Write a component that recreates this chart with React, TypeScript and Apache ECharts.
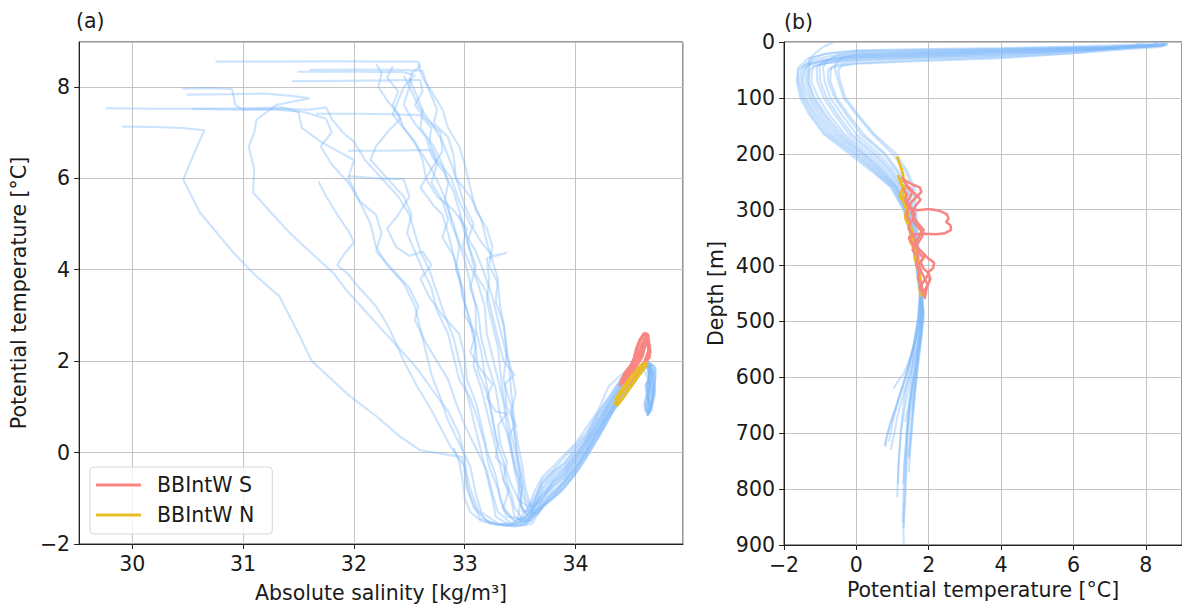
import { useEffect, useRef } from 'react';
import * as echarts from 'echarts';

// ---------- Panel (a): Absolute salinity vs potential temperature ----------
const salinityTicks = [30, 31, 32, 33, 34];
const tempTicksA = [-2, 0, 2, 4, 6, 8];

const ts01 = [[30.75,8.55],[31.2,8.55],[31.8,8.56],[32.3,8.55],[32.58,8.55],[32.6,8.45],[32.52,8.3],[32.5,8.0],[32.58,7.6],[32.7,7.2],[32.8,6.8],[32.88,6.3],[32.95,5.8],[33.0,5.4],[33.08,5.0],[33.02,4.6],[33.1,4.1],[33.05,3.6],[33.12,3.1],[33.15,2.5],[33.2,2.0],[33.28,1.4],[33.32,0.8],[33.38,0.45],[33.4,0.2],[33.45,-0.3],[33.52,-0.8],[33.5,-1.15],[33.58,-1.4],[33.64,-1.15],[33.7,-0.82],[33.8,-0.55],[33.9,-0.36],[34.0,-0.03],[34.1,0.27],[34.2,0.7],[34.3,1.06],[34.42,1.52],[34.55,1.76],[34.62,1.92],[34.66,1.95],[34.7,1.8],[34.69,1.6],[34.71,1.4],[34.7,1.2],[34.68,1.0],[34.66,0.85]];
const ts02 = [[31.6,8.37],[32.0,8.38],[32.4,8.37],[32.62,8.35],[32.65,8.1],[32.7,7.8],[32.75,7.5],[32.72,7.2],[32.85,6.9],[32.9,6.5],[32.92,6.0],[33.05,5.6],[33.15,5.1],[33.2,4.6],[33.25,4.2],[33.3,3.8],[33.28,3.3],[33.35,2.8],[33.38,2.2],[33.35,1.6],[33.42,1.0],[33.45,0.4],[33.48,-0.2],[33.52,-0.7],[33.5,-1.05],[33.58,-1.2],[33.62,-0.9],[33.7,-0.53],[33.8,-0.3],[33.9,-0.04],[34.0,0.2],[34.1,0.55],[34.2,0.9],[34.3,1.45],[34.42,1.72],[34.55,1.9],[34.61,1.9],[34.65,2.0],[34.72,1.85],[34.72,1.6],[34.7,1.35],[34.69,1.15],[34.67,0.95],[34.65,0.8]];
const ts03 = [[31.49,8.33],[32.0,8.33],[32.45,8.32],[32.55,8.25],[32.45,8.0],[32.4,7.7],[32.35,7.4],[32.48,7.0],[32.6,6.6],[32.7,6.2],[32.78,5.8],[32.85,5.4],[32.88,5.0],[32.95,4.6],[33.0,4.2],[33.05,3.7],[33.1,3.2],[33.1,2.7],[33.15,2.2],[33.18,1.7],[33.22,1.2],[33.25,0.7],[33.3,0.2],[33.28,-0.1],[33.35,-0.3],[33.4,-0.8],[33.35,-1.2],[33.45,-1.5],[33.55,-1.42],[33.62,-1.15],[33.7,-0.92],[33.8,-0.66],[33.9,-0.46],[34.0,-0.13],[34.1,0.18],[34.2,0.61],[34.3,0.97],[34.42,1.44],[34.55,1.72],[34.6,1.88],[34.64,1.96],[34.67,1.85],[34.66,1.65],[34.67,1.45],[34.65,1.25],[34.66,1.05]];
const ts04 = [[31.44,8.12],[31.9,8.13],[32.3,8.14],[32.6,8.15],[32.62,7.9],[32.55,7.6],[32.65,7.3],[32.78,7.0],[32.8,6.6],[32.7,6.2],[32.6,5.8],[32.72,5.4],[32.8,5.2],[32.85,4.8],[32.9,4.3],[32.95,3.8],[33.0,3.3],[33.05,2.8],[33.1,2.3],[33.12,1.8],[33.2,1.3],[33.25,0.8],[33.28,0.3],[33.35,-0.2],[33.42,-0.7],[33.5,-1.1],[33.48,-1.45],[33.6,-1.5],[33.7,-1.02],[33.8,-0.76],[33.9,-0.56],[34.0,-0.23],[34.1,0.09],[34.2,0.52],[34.3,0.88],[34.42,1.36],[34.55,1.68],[34.63,1.95],[34.68,1.9],[34.68,1.7],[34.64,1.5],[34.65,1.3],[34.63,1.1],[34.64,0.9]];
const ts05 = [[30.45,7.96],[30.7,7.97],[30.9,7.95],[30.93,7.6],[31.0,7.5],[31.3,7.52],[31.6,7.5],[31.75,7.55],[31.8,7.3],[31.9,7.0],[32.0,6.8],[32.1,6.4],[32.25,6.0],[32.4,5.6],[32.5,5.2],[32.55,4.8],[32.6,4.4],[32.68,4.0],[32.75,3.5],[32.82,3.0],[32.9,2.5],[32.95,2.0],[33.0,1.5],[33.05,1.0],[33.1,0.5],[33.15,0.0],[33.2,-0.5],[33.25,-1.0],[33.28,-1.4],[33.4,-1.58],[33.55,-1.5],[33.62,-1.35],[33.7,-1.12],[33.8,-0.87],[33.9,-0.66],[34.0,-0.36],[34.1,0.04],[34.2,0.4],[34.3,0.84],[34.42,1.27],[34.55,1.66],[34.61,1.88],[34.64,1.93],[34.69,1.75],[34.68,1.55],[34.7,1.3],[34.68,1.1],[34.67,0.9]];
const ts06 = [[30.49,7.83],[30.9,7.84],[31.2,7.85],[31.45,7.8],[31.6,7.75],[31.3,7.6],[31.12,7.28],[31.1,7.0],[31.05,6.69],[31.1,6.2],[31.09,5.69],[31.25,5.25],[31.42,4.81],[31.6,4.4],[31.81,3.94],[31.95,3.5],[32.1,3.1],[32.25,2.7],[32.4,2.3],[32.55,1.9],[32.7,1.4],[32.85,0.9],[32.95,0.4],[33.0,-0.1],[33.02,-0.7],[33.08,-1.2],[33.2,-1.5],[33.35,-1.6],[33.55,-1.58],[33.62,-1.42],[33.7,-1.22],[33.8,-1.0],[33.9,-0.77],[34.0,-0.46],[34.1,-0.1],[34.2,0.3],[34.3,0.74],[34.42,1.18],[34.55,1.58],[34.6,1.85],[34.65,1.9],[34.66,1.7],[34.65,1.45],[34.66,1.2],[34.64,1.0],[34.65,0.82]];
const ts07 = [[29.76,7.53],[30.2,7.52],[30.6,7.52],[31.0,7.53],[31.36,7.55],[31.5,7.45],[31.53,7.1],[31.7,6.8],[31.85,6.6],[32.0,6.4],[31.95,6.0],[32.05,5.5],[32.15,5.0],[32.2,4.5],[32.3,4.1],[32.45,3.7],[32.55,3.2],[32.6,2.7],[32.65,2.2],[32.7,1.7],[32.78,1.2],[32.85,0.7],[32.95,0.2],[33.05,-0.3],[33.1,-0.9],[33.15,-1.3],[33.3,-1.55],[33.5,-1.6],[33.6,-1.4],[33.7,-1.08],[33.8,-0.83],[33.9,-0.63],[34.0,-0.29],[34.1,0.07],[34.2,0.46],[34.3,0.83],[34.42,1.32],[34.55,1.67],[34.63,1.9],[34.7,1.92],[34.72,1.7],[34.71,1.5],[34.72,1.3],[34.7,1.1],[34.68,0.95]];
const ts08 = [[30.54,7.52],[30.9,7.5],[31.3,7.5],[31.55,7.45],[31.75,7.3],[31.8,7.0],[31.7,6.7],[31.8,6.3],[31.95,5.9],[32.05,5.5],[32.2,5.2],[32.25,4.8],[32.2,4.4],[32.35,4.0],[32.5,3.6],[32.58,3.2],[32.55,2.9],[32.65,2.4],[32.75,2.0],[32.85,1.6],[32.92,1.1],[33.0,0.6],[33.1,0.1],[33.2,-0.4],[33.25,-0.9],[33.3,-1.3],[33.42,-1.55],[33.58,-1.45],[33.65,-1.1],[33.7,-0.88],[33.8,-0.62],[33.9,-0.43],[34.0,-0.1],[34.1,0.25],[34.2,0.6],[34.3,1.04],[34.42,1.46],[34.55,1.76],[34.62,1.93],[34.66,1.88],[34.67,1.65],[34.63,1.45],[34.64,1.25],[34.62,1.05],[34.63,0.88]];
const ts09 = [[29.91,7.13],[30.2,7.12],[30.45,7.1],[30.65,7.05],[30.64,7.0],[30.55,6.5],[30.46,5.97],[30.61,5.25],[30.91,4.38],[31.1,3.9],[31.33,3.41],[31.5,2.6],[31.62,2.0],[31.8,1.6],[31.96,1.24],[32.2,0.8],[32.41,0.36],[32.6,0.05],[32.85,-0.05],[32.98,-0.1],[33.02,-0.8],[33.14,-1.45],[33.29,-1.56],[33.45,-1.62],[33.61,-1.55],[33.7,-1.16],[33.8,-0.97],[33.9,-0.7],[34.0,-0.4],[34.1,-0.02],[34.2,0.34],[34.3,0.78],[34.42,1.22],[34.55,1.62],[34.62,1.8],[34.67,1.55],[34.66,1.0],[34.65,0.8]];
const ts10 = [[31.66,7.41],[32.0,7.41],[32.35,7.4],[32.6,7.38],[32.7,7.1],[32.68,6.8],[32.75,6.4],[32.88,6.0],[32.95,5.5],[33.05,5.0],[33.15,4.6],[33.25,4.3],[33.38,4.37],[33.2,4.25],[33.22,3.8],[33.2,3.3],[33.25,2.8],[33.3,2.3],[33.32,1.8],[33.35,1.2],[33.4,0.6],[33.45,0.1],[33.5,-0.5],[33.48,-1.0],[33.55,-1.35],[33.63,-1.05],[33.7,-0.6],[33.8,-0.38],[33.9,-0.1],[34.0,0.16],[34.1,0.44],[34.2,0.88],[34.3,1.22],[34.42,1.65],[34.55,1.85],[34.6,1.88],[34.64,1.96],[34.67,1.85],[34.66,1.65],[34.67,1.45],[34.65,1.25],[34.66,1.05]];
const ts11 = [[31.95,6.6],[32.3,6.6],[32.7,6.62],[32.75,6.3],[32.7,5.9],[32.8,5.5],[32.85,5.1],[32.8,4.7],[32.9,4.3],[32.95,3.9],[32.98,3.4],[33.05,2.9],[33.1,2.4],[33.08,1.9],[33.15,1.4],[33.2,0.9],[33.25,0.4],[33.3,-0.1],[33.35,-0.6],[33.42,-1.05],[33.45,-1.4],[33.55,-1.55],[33.63,-1.25],[33.7,-0.98],[33.8,-0.72],[33.9,-0.53],[34.0,-0.2],[34.1,0.16],[34.2,0.5],[34.3,0.95],[34.42,1.36],[34.55,1.72],[34.61,1.9],[34.65,2.0],[34.72,1.85],[34.72,1.6],[34.7,1.35],[34.69,1.15],[34.67,0.95],[34.65,0.8]];
const ts12 = [[32.2,8.5],[32.25,8.3],[32.22,8.0],[32.3,7.7],[32.4,7.4],[32.45,7.1],[32.55,6.8],[32.62,6.4],[32.65,6.0],[32.75,5.6],[32.9,5.3],[33.02,4.9],[32.98,4.5],[33.05,4.1],[33.12,3.7],[33.18,3.2],[33.2,2.6],[33.25,2.1],[33.3,1.6],[33.35,1.1],[33.38,0.6],[33.42,0.1],[33.45,-0.4],[33.5,-0.9],[33.52,-1.3],[33.6,-1.25],[33.65,-0.95],[33.7,-0.7],[33.8,-0.44],[33.9,-0.26],[34.0,0.07],[34.1,0.35],[34.2,0.8],[34.3,1.14],[34.42,1.59],[34.55,1.81],[34.63,1.95],[34.68,1.9],[34.68,1.7],[34.64,1.5],[34.65,1.3],[34.63,1.1],[34.64,0.9]];
const ts13 = [[32.35,8.45],[32.3,8.2],[32.4,7.9],[32.35,7.6],[32.42,7.3],[32.3,7.0],[32.2,6.7],[32.15,6.4],[32.3,6.0],[32.45,5.6],[32.52,5.2],[32.48,4.8],[32.55,4.4],[32.62,4.0],[32.7,3.6],[32.75,3.1],[32.85,2.6],[32.9,2.1],[32.95,1.6],[33.05,1.2],[33.12,0.7],[33.18,0.2],[33.22,-0.3],[33.3,-0.8],[33.35,-1.25],[33.45,-1.5],[33.58,-1.35],[33.65,-1.0],[33.7,-0.77],[33.8,-0.5],[33.9,-0.32],[34.0,0.0],[34.1,0.3],[34.2,0.73],[34.3,1.1],[34.42,1.54],[34.55,1.77],[34.62,1.92],[34.66,1.95],[34.7,1.8],[34.69,1.6],[34.71,1.4],[34.7,1.2],[34.68,1.0],[34.66,0.85]];
const ts14 = [[31.95,6.05],[32.2,6.0],[32.45,5.98],[32.5,5.6],[32.4,5.2],[32.3,4.9],[32.38,4.5],[32.5,4.3],[32.62,4.4],[32.7,4.1],[32.6,3.8],[32.68,3.4],[32.8,3.0],[32.95,2.6],[33.0,2.1],[33.02,1.6],[33.1,1.1],[33.15,0.6],[33.2,0.05],[33.28,-0.5],[33.32,-1.0],[33.38,-1.4],[33.5,-1.45],[33.6,-1.1],[33.7,-0.66],[33.8,-0.41],[33.9,-0.22],[34.0,0.1],[34.1,0.38],[34.2,0.83],[34.3,1.18],[34.42,1.62],[34.55,1.83],[34.6,1.85],[34.65,1.9],[34.66,1.7],[34.65,1.45],[34.66,1.2],[34.64,1.0],[34.65,0.82]];
const ts15 = [[32.9,0.1],[32.95,-0.2],[32.98,-0.6],[33.0,-1.0],[33.05,-1.3],[33.15,-1.5],[33.3,-1.58],[33.5,-1.52],[33.6,-1.3],[33.7,-0.95],[33.8,-0.7],[33.9,-0.48],[34.0,-0.17],[34.1,0.19],[34.2,0.55],[34.3,0.98],[34.42,1.4],[34.55,1.73],[34.62,1.9],[34.66,1.8],[34.67,1.5],[34.66,1.2],[34.67,1.0],[34.65,0.83]];
const ts16 = [[32.95,5.2],[33.0,4.8],[33.1,4.4],[33.18,3.9],[33.25,3.4],[33.3,2.9],[33.35,2.4],[33.4,1.9],[33.42,1.3],[33.45,0.7],[33.48,0.2],[33.52,-0.3],[33.55,-0.8],[33.6,-1.2],[33.7,-1.05],[33.8,-0.6],[33.9,-0.38],[34.0,-0.07],[34.1,0.26],[34.2,0.66],[34.3,1.06],[34.42,1.48],[34.55,1.77],[34.62,1.9],[34.66,1.92],[34.7,1.75],[34.7,1.5],[34.68,1.3],[34.69,1.1],[34.67,0.9]];
const ts17 = [[32.45,8.25],[32.5,8.0],[32.45,7.6],[32.55,7.2],[32.65,6.9],[32.7,6.5],[32.82,6.1],[32.9,5.7],[32.95,5.3],[33.0,4.9],[33.05,4.4],[33.1,3.9],[33.2,3.5],[33.25,3.0],[33.3,2.5],[33.35,2.0],[33.45,1.7],[33.36,1.5],[33.38,1.0],[33.46,0.6],[33.4,0.4],[33.43,0.0],[33.47,-0.4],[33.52,-0.9],[33.58,-1.3],[33.66,-1.35],[33.75,-1.0],[33.85,-0.8],[33.95,-0.5],[34.05,-0.15],[34.15,0.25],[34.25,0.65],[34.35,1.05],[34.45,1.45],[34.55,1.7],[34.62,1.9],[34.67,1.92],[34.7,1.7],[34.68,1.45],[34.7,1.25],[34.68,1.05],[34.69,0.9]];
const ts18 = [[32.58,8.5],[32.62,8.2],[32.7,7.9],[32.8,7.5],[32.85,7.1],[32.95,6.7],[33.0,6.3],[33.05,5.8],[33.1,5.3],[33.2,4.9],[33.25,4.5],[33.22,4.1],[33.3,3.7],[33.32,3.2],[33.36,2.7],[33.38,2.2],[33.42,1.8],[33.46,1.3],[33.42,0.9],[33.45,0.4],[33.48,-0.1],[33.52,-0.6],[33.55,-1.0],[33.62,-1.3],[33.72,-1.12],[33.85,-0.9],[33.95,-0.62],[34.05,-0.3],[34.15,0.1],[34.25,0.5],[34.35,0.95],[34.45,1.35],[34.55,1.68],[34.62,1.88],[34.66,1.9],[34.68,1.7],[34.67,1.5],[34.68,1.3],[34.66,1.1],[34.67,0.9]];
const ts19 = [[31.68,5.93],[31.75,5.6],[31.85,5.2],[31.95,4.85],[32.0,4.6],[31.9,4.3],[31.85,4.1],[31.95,3.9],[32.05,3.6],[32.2,3.2],[32.3,2.8],[32.38,2.4],[32.45,2.0],[32.57,1.45],[32.71,0.88],[32.87,0.14],[33.0,-0.3],[33.05,-0.8],[33.12,-1.25],[33.22,-1.55],[33.4,-1.6],[33.58,-1.5],[33.68,-1.25],[33.78,-1.0],[33.88,-0.8],[33.98,-0.5],[34.08,-0.12],[34.18,0.28],[34.28,0.68],[34.38,1.1],[34.48,1.45],[34.57,1.7],[34.63,1.88],[34.66,1.85],[34.67,1.6],[34.65,1.35],[34.66,1.1],[34.65,0.9]];
const ts20 = [[32.5,8.2],[32.55,7.9],[32.62,7.5],[32.6,7.1],[32.72,6.7],[32.8,6.3],[32.85,5.9],[32.82,5.5],[32.9,5.0],[32.95,4.5],[32.92,4.0],[33.0,3.5],[33.0,3.0],[33.1,2.6],[33.05,2.2],[33.15,1.8],[33.25,1.5],[33.2,1.2],[33.28,0.9],[33.38,0.85],[33.3,0.6],[33.32,0.2],[33.38,-0.2],[33.35,-0.6],[33.42,-0.9],[33.45,-1.2],[33.52,-1.45],[33.6,-1.4],[33.7,-1.18],[33.8,-0.92],[33.9,-0.6],[34.0,-0.33],[34.1,0.0],[34.2,0.45],[34.3,0.88],[34.42,1.33],[34.55,1.7],[34.62,1.88],[34.66,1.88],[34.7,1.7],[34.72,1.45],[34.7,1.2],[34.69,1.0],[34.67,0.85]];

const tsRed1 = [[34.4,1.45],[34.42,1.6],[34.45,1.75],[34.5,1.9],[34.53,2.05],[34.55,2.25],[34.58,2.45],[34.62,2.6],[34.65,2.58],[34.66,2.4],[34.67,2.2],[34.65,2.05]];
const tsRed2 = [[34.45,1.5],[34.48,1.65],[34.52,1.8],[34.56,1.95],[34.6,2.1],[34.62,2.3],[34.64,2.45],[34.66,2.3],[34.66,2.1],[34.64,2.0]];
const tsRed3 = [[34.5,1.45],[34.53,1.6],[34.56,1.75],[34.6,1.9],[34.63,2.0],[34.65,2.15],[34.67,2.25],[34.66,2.05]];
const tsRed4 = [[34.42,1.5],[34.47,1.7],[34.52,1.95],[34.57,2.15],[34.6,2.35],[34.63,2.5]];
const tsRed5 = [[34.44,1.4],[34.48,1.55],[34.5,1.7],[34.53,1.85],[34.57,2.0],[34.6,2.15],[34.62,2.35],[34.64,2.55],[34.63,2.62]];

const tsYel1 = [[34.35,1.05],[34.4,1.25],[34.45,1.42],[34.5,1.6],[34.55,1.75],[34.6,1.9],[34.64,1.98]];
const tsYel2 = [[34.37,1.02],[34.43,1.2],[34.48,1.38],[34.53,1.55],[34.58,1.72],[34.62,1.85],[34.65,1.95]];
const tsYel3 = [[34.36,1.15],[34.41,1.35],[34.46,1.52],[34.51,1.68],[34.56,1.82],[34.61,1.95]];

// ---------- Panel (b): potential temperature vs depth ----------
const tempTicksB = [-2, 0, 2, 4, 6, 8];
const depthTicks = [0, 100, 200, 300, 400, 500, 600, 700, 800, 900];

const td01 = [[8.55,1],[8.45,5],[7.0,8],[4.0,12],[1.8,14],[0.0,16],[-0.9,22],[-1.35,30],[-1.6,45],[-1.65,70],[-1.55,100],[-1.3,130],[-0.9,165],[-0.2,200],[0.4,230],[0.95,260],[1.3,300],[1.5,350],[1.65,400],[1.75,450],[1.72,490],[1.62,530],[1.55,580],[1.48,630],[1.42,690],[1.38,750],[1.33,820],[1.3,870],[1.31,900]];
const td02 = [[8.6,2],[8.5,6],[6.5,10],[4.0,14],[1.5,17],[0.0,20],[-0.8,26],[-1.3,34],[-1.5,45],[-1.58,70],[-1.45,100],[-1.18,130],[-0.78,165],[-0.05,200],[0.5,230],[1.02,260],[1.33,300],[1.52,350],[1.66,400],[1.76,450],[1.7,495],[1.6,540],[1.45,590],[1.32,640],[1.22,700],[1.16,760],[1.13,814]];
const td03 = [[8.3,1],[8.2,5],[6.8,11],[4.0,17],[1.6,21],[0.0,24],[-0.7,30],[-1.2,38],[-1.4,45],[-1.48,70],[-1.32,100],[-1.05,130],[-0.62,165],[0.08,200],[0.6,230],[1.08,260],[1.38,300],[1.55,350],[1.68,400],[1.78,450],[1.82,490],[1.75,540],[1.66,590],[1.57,640],[1.5,690],[1.45,740]];
const td04 = [[-0.65,1],[-0.9,8],[-1.1,18],[-1.3,30],[-1.3,45],[-1.35,70],[-1.15,100],[-0.85,130],[-0.4,165],[0.25,200],[0.75,230],[1.15,260],[1.42,300],[1.57,350],[1.68,400],[1.77,450],[1.75,490],[1.62,530],[1.45,575],[1.28,615],[1.1,650],[0.95,680],[0.85,705],[0.8,725]];
const td05 = [[8.5,3],[8.3,8],[6.5,14],[4.0,20],[1.5,25],[0.0,28],[-0.6,33],[-1.0,40],[-1.1,45],[-1.08,70],[-0.9,100],[-0.6,130],[-0.2,165],[0.45,200],[0.9,230],[1.25,260],[1.48,300],[1.6,350],[1.7,400],[1.8,450],[1.78,495],[1.7,545],[1.6,590],[1.5,640],[1.4,690],[1.35,740],[1.3,790]];
const td06 = [[8.2,1],[8.55,4],[7.0,9],[4.0,13],[1.5,16],[0.0,18],[-0.5,23],[-0.8,32],[-0.92,45],[-0.88,70],[-0.72,100],[-0.4,130],[0.0,165],[0.62,200],[1.02,230],[1.33,260],[1.52,300],[1.62,350],[1.72,400],[1.8,450],[1.74,505],[1.58,550],[1.38,595],[1.18,635],[1.02,675],[0.9,715]];
const td07 = [[7.8,2],[7.7,7],[6.0,17],[4.0,25],[1.5,30],[0.0,34],[-0.5,40],[-0.7,45],[-0.72,70],[-0.55,100],[-0.22,130],[0.2,165],[0.8,200],[1.15,230],[1.42,260],[1.57,300],[1.65,350],[1.72,400],[1.8,450],[1.86,490],[1.8,530],[1.72,570],[1.63,620],[1.56,670],[1.5,720],[1.45,770]];
const td08 = [[8.6,2],[8.55,6],[7.0,10],[4.0,15],[1.5,19],[0.0,22],[-0.4,28],[-0.55,36],[-0.6,45],[-0.5,70],[-0.35,100],[0.0,130],[0.45,165],[1.0,200],[1.35,230],[1.55,260],[1.62,300],[1.68,350],[1.74,400],[1.8,450],[1.78,485],[1.68,525],[1.52,560],[1.32,592],[1.12,610],[1.03,620]];
const td09 = [[8.4,3],[8.1,8],[6.5,12],[4.0,18],[1.4,23],[0.0,26],[-0.9,32],[-1.4,40],[-1.6,50],[-1.62,70],[-1.5,100],[-1.25,130],[-0.85,165],[-0.12,200],[0.45,230],[0.98,260],[1.32,300],[1.52,350],[1.66,400],[1.78,450],[1.85,485],[1.8,520],[1.7,560],[1.6,605],[1.5,650],[1.42,700],[1.38,760],[1.35,820],[1.3,870]];
const td10 = [[8.0,1],[7.8,4],[6.0,8],[4.0,11],[1.5,13],[0.0,15],[-0.8,20],[-1.2,28],[-1.35,45],[-1.4,70],[-1.26,100],[-0.98,130],[-0.55,165],[0.15,200],[0.65,230],[1.1,260],[1.4,300],[1.55,350],[1.67,400],[1.76,450],[1.75,505],[1.62,550],[1.5,595],[1.38,640],[1.25,690],[1.18,740],[1.15,790]];
const td11 = [[8.5,1],[8.35,6],[6.5,15],[4.0,22],[1.5,27],[0.0,30],[-0.7,36],[-1.15,42],[-1.22,50],[-1.25,70],[-1.05,100],[-0.75,130],[-0.32,165],[0.35,200],[0.82,230],[1.2,260],[1.45,300],[1.58,350],[1.68,400],[1.8,450],[1.8,500],[1.72,545],[1.62,590],[1.5,635],[1.35,680]];
const td12 = [[8.6,4],[8.4,9],[6.2,19],[4.0,27],[1.5,33],[0.0,38],[-0.4,42],[-0.5,50],[-0.45,70],[-0.3,100],[0.05,130],[0.5,165],[1.1,200],[1.4,230],[1.6,260],[1.65,300],[1.7,350],[1.75,400],[1.8,445],[1.85,480],[1.8,515],[1.7,560],[1.62,610],[1.55,660]];
const td13 = [[8.2,2],[8.0,6],[6.5,11],[4.0,16],[1.5,20],[0.0,23],[-0.6,28],[-0.95,36],[-1.02,45],[-1.0,70],[-0.82,100],[-0.52,130],[-0.12,165],[0.52,200],[0.95,230],[1.28,260],[1.5,300],[1.6,350],[1.7,400],[1.78,455],[1.72,495],[1.6,540],[1.45,580],[1.3,615],[1.12,650],[0.95,680],[0.82,710],[0.78,722]];
const td14 = [[8.45,1],[8.5,6],[7.2,12],[4.0,19],[1.5,24],[0.0,27],[-0.8,33],[-1.3,40],[-1.45,48],[-1.52,70],[-1.4,100],[-1.12,130],[-0.7,165],[0.0,200],[0.55,230],[1.05,260],[1.36,300],[1.54,350],[1.67,400],[1.76,440],[1.82,475],[1.76,515],[1.65,560],[1.55,610],[1.45,660],[1.38,710],[1.32,760],[1.3,810],[1.28,860]];
const td15 = [[7.9,3],[7.75,8],[6.0,20],[4.0,29],[1.5,35],[0.0,39],[-0.6,44],[-0.78,50],[-0.78,70],[-0.6,100],[-0.28,130],[0.12,165],[0.75,200],[1.1,230],[1.4,260],[1.56,300],[1.64,350],[1.71,400],[1.78,450],[1.84,488],[1.8,525],[1.72,565],[1.65,610],[1.58,655],[1.52,700],[1.45,745]];
const td16 = [[8.3,1],[8.2,6],[6.2,15],[4.0,23],[1.5,28],[0.0,32],[-0.8,38],[-1.2,44],[-1.3,50],[-1.32,70],[-1.2,100],[-0.9,130],[-0.48,165],[0.2,200],[0.7,230],[1.12,260],[1.42,300],[1.56,350],[1.68,400],[1.78,440],[1.85,478],[1.78,515],[1.65,555],[1.48,595],[1.3,630],[1.15,665],[1.05,700],[0.95,730]];

const tdRed1 = [[1.26,241],[1.35,248],[1.55,255],[1.75,260],[1.8,268],[1.65,278],[1.5,288],[1.45,298],[1.7,301],[2.0,299],[2.3,302],[2.5,308],[2.55,316],[2.48,322],[2.6,328],[2.62,336],[2.45,342],[2.2,344],[1.9,343],[1.6,344],[1.45,350],[1.55,362],[1.75,372],[1.95,385],[2.15,395],[2.12,405],[1.98,412],[2.05,424],[1.95,438],[1.92,450],[1.88,458]];
const tdRed2 = [[1.3,248],[1.42,258],[1.55,266],[1.5,276],[1.4,286],[1.5,296],[1.62,308],[1.55,318],[1.68,330],[1.8,338],[1.72,350],[1.6,362],[1.75,372],[1.9,382],[1.78,394],[1.85,405],[2.0,414],[1.9,425],[1.98,435],[1.85,447],[1.9,460]];
const tdRed3 = [[1.35,255],[1.48,265],[1.62,272],[1.78,282],[1.65,292],[1.52,304],[1.6,315],[1.72,326],[1.86,336],[1.8,350],[1.68,362],[1.7,376],[1.85,386],[1.72,398],[1.8,412],[1.9,424],[1.76,438],[1.84,452]];
const tdRed4 = [[1.28,262],[1.4,272],[1.35,284],[1.45,296],[1.38,310],[1.5,322],[1.45,334],[1.58,346],[1.65,358],[1.55,372],[1.7,384],[1.65,398],[1.75,410],[1.7,422],[1.8,436],[1.85,448]];

const tdYel1 = [[1.13,205],[1.18,215],[1.25,228],[1.3,240],[1.22,252],[1.35,262],[1.3,276],[1.4,290],[1.45,305],[1.42,318],[1.5,330],[1.58,345],[1.55,360],[1.65,375],[1.7,392],[1.72,410],[1.78,428],[1.75,442],[1.82,456]];
const tdYel2 = [[1.15,238],[1.22,250],[1.28,262],[1.2,275],[1.32,288],[1.38,300],[1.35,315],[1.45,328],[1.5,342],[1.48,356],[1.6,370],[1.62,388],[1.7,405],[1.75,425],[1.78,445]];

const legendNames = ['BBIntW S', 'BBIntW N'];

const tsBlue = [ts01, ts02, ts03, ts04, ts05, ts06, ts07, ts08, ts09, ts10, ts11, ts12, ts13, ts14, ts15, ts16, ts17, ts18, ts19, ts20];
const tsRed = [tsRed1, tsRed2, tsRed3, tsRed4, tsRed5];
const tsYel = [tsYel1, tsYel2, tsYel3];
const tdBlue = [td01, td02, td03, td04, td05, td06, td07, td08, td09, td10, td11, td12, td13, td14, td15, td16];
const tdRed = [tdRed1, tdRed2, tdRed3, tdRed4];
const tdYel = [tdYel1, tdYel2];

const FONT = 'DejaVu Sans';
const FS = 20.5;
const TXT = '#1a1a1a';
const BLUE = '#80b8fb';
const RED = '#f98582';
const YEL = '#e8bd26';
const GRIDC = '#c4c4c4';

function lineSeries(data: number[][], name: string, color: string, width: number, opacity: number, idx: number, z: number) {
  return {
    type: 'line',
    name,
    data,
    xAxisIndex: idx,
    yAxisIndex: idx,
    showSymbol: false,
    symbol: 'none',
    silent: true,
    z,
    lineStyle: { color, width, opacity },
    itemStyle: { color },
    emphasis: { disabled: true },
  };
}

function valueAxis(extra: any) {
  return {
    type: 'value',
    axisLine: { show: true, onZero: false, lineStyle: { color: '#222', width: 1 } },
    axisTick: { show: true, length: 5, inside: false, lineStyle: { color: '#222' } },
    splitLine: { show: true, lineStyle: { color: GRIDC, width: 1 } },
    nameTextStyle: { color: TXT, fontFamily: FONT, fontSize: FS },
    nameLocation: 'middle',
    ...extra,
  };
}

const minus = (v: number) => (v < 0 ? '\u2212' + Math.abs(v) : String(v));

export default function App() {
  const ref = useRef<HTMLDivElement>(null);
  useEffect(() => {
    const chart = echarts.init(ref.current!, null, { renderer: 'svg' });
    const series: any[] = [];
    tsBlue.forEach((d) => series.push(lineSeries(d, 'profile', BLUE, 2.1, 0.4, 0, 2)));
    tsRed.forEach((d) => series.push(lineSeries(d, legendNames[0], RED, 3.5, 1, 0, 3)));
    tsYel.forEach((d) => series.push(lineSeries(d, legendNames[1], YEL, 3.2, 1, 0, 4)));
    tdBlue.forEach((d) => series.push(lineSeries(d, 'profile', BLUE, 2.1, 0.4, 1, 2)));
    tdYel.forEach((d) => series.push(lineSeries(d, legendNames[1], YEL, 2.8, 1, 1, 3)));
    tdRed.forEach((d) => series.push(lineSeries(d, legendNames[0], RED, 2.5, 1, 1, 4)));

    const lbl = (extra: any) => ({ color: TXT, fontFamily: FONT, fontSize: FS, margin: 9, ...extra });

    chart.setOption({
      animation: false,
      backgroundColor: '#ffffff',
      textStyle: { fontFamily: FONT },
      title: [
        { text: '(a)', left: 76, top: 10, padding: 0, textStyle: { fontFamily: FONT, fontSize: FS, fontWeight: 'normal', color: TXT } },
        { text: '(b)', left: 784, top: 11, padding: 0, textStyle: { fontFamily: FONT, fontSize: FS, fontWeight: 'normal', color: TXT } },
      ],
      grid: [
        { left: 79, top: 42, width: 604, height: 503, show: true, borderColor: '#333', borderWidth: 1, backgroundColor: 'transparent' },
        { left: 784, top: 42, width: 403, height: 503, show: true, borderColor: '#333', borderWidth: 1, backgroundColor: 'transparent' },
      ],
      legend: {
        data: legendNames.map((n, i) => ({ name: n, itemStyle: { color: i === 0 ? RED : YEL } })),
        orient: 'vertical',
        left: 90,
        top: 467,
        icon: 'rect',
        itemWidth: 45,
        itemHeight: 3,
        itemGap: 6,
        padding: [6, 18, 7, 6],
        backgroundColor: 'rgba(255,255,255,0.8)',
        borderColor: '#d6d6d6',
        borderWidth: 1,
        borderRadius: 4,
        textStyle: { fontFamily: FONT, fontSize: FS, color: TXT, lineHeight: 24, padding: [0, 0, 0, 11] },
        selectedMode: false,
      },
      xAxis: [
        valueAxis({
          gridIndex: 0,
          min: 29.52,
          max: 34.97,
          name: 'Absolute salinity [kg/m\u00B3]',
          nameGap: 38,
          axisLabel: lbl({ showMinLabel: false, showMaxLabel: false, formatter: (v: number) => (salinityTicks.includes(v) ? String(v) : '') }),
        }),
        valueAxis({
          gridIndex: 1,
          min: -2,
          max: 9,
          interval: 2,
          name: 'Potential temperature [\u00B0C]',
          nameGap: 33,
          axisLabel: lbl({ showMaxLabel: false, formatter: (v: number) => (tempTicksB.includes(v) ? minus(v) : '') }),
        }),
      ],
      yAxis: [
        valueAxis({
          gridIndex: 0,
          min: -2,
          max: 8.98,
          interval: 2,
          name: 'Potential temperature [\u00B0C]',
          nameGap: 48,
          axisLabel: lbl({ showMaxLabel: false, formatter: (v: number) => (tempTicksA.includes(v) ? minus(v) : '') }),
        }),
        valueAxis({
          gridIndex: 1,
          min: 0,
          max: 900,
          interval: 100,
          inverse: true,
          name: 'Depth [m]',
          nameGap: 58,
          axisLabel: lbl({ formatter: (v: number) => (depthTicks.includes(v) ? String(v) : '') }),
        }),
      ],
      series,
    });
    return () => chart.dispose();
  }, []);
  return <div ref={ref} style={{ position: 'absolute', left: 0, top: 0, width: 1182, height: 608, background: '#fff' }} />;
}
